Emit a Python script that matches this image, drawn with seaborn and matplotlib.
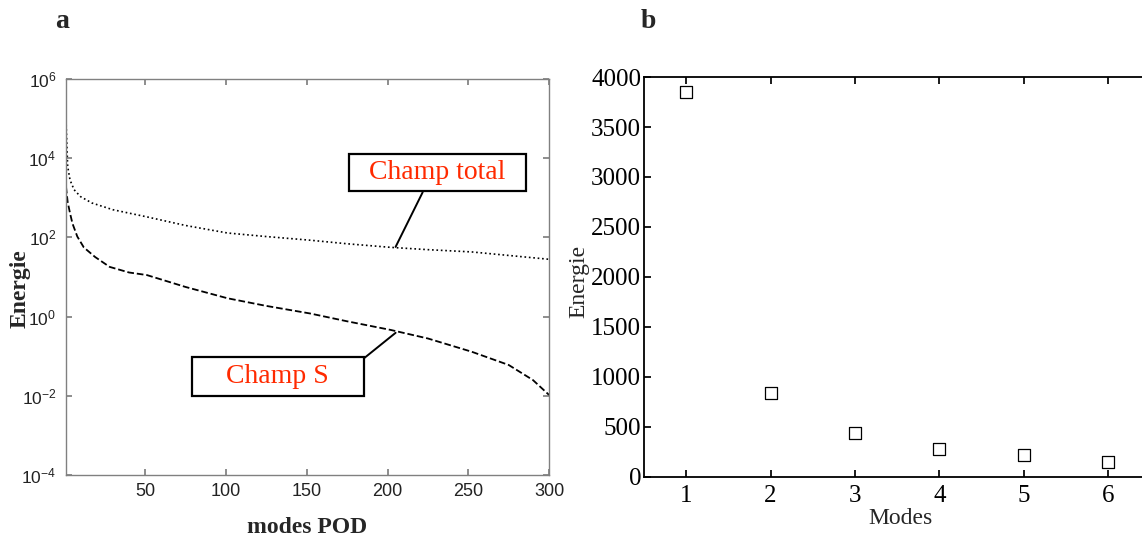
import matplotlib
matplotlib.use('Agg')
import matplotlib.pyplot as plt
import numpy as np
import pandas as pd
import seaborn as sns

# panel a: POD energy spectra
modes_total = [1, 2, 3.5, 6, 10, 17, 30, 51, 75, 101, 125, 152, 175, 202, 225, 252, 275, 300]
energie_total = [91000, 6300, 2800, 1600, 1070, 740, 500, 330, 200, 129, 105, 85, 69, 56, 49, 43, 35, 28]

modes_s = [1, 2, 3.5, 5, 8, 12, 19, 28, 40, 51, 75, 101, 125, 152, 175, 202, 225, 252, 275, 290, 300]
energie_s = [1905, 794, 407, 224, 105, 56, 32, 18, 13, 11.2, 5.6, 2.9, 1.86, 1.2, 0.76, 0.46, 0.28,
             0.13, 0.06, 0.025, 0.0105]

# panel b: first six modes
modes_b = [1, 2, 3, 4, 5, 6]
energie_b = [3850, 843, 437, 277, 220, 147]

x_ticks_a = [50, 100, 150, 200, 250, 300]
y_ticks_a = [1e-4, 1e-2, 1e0, 1e2, 1e4, 1e6]
y_ticks_b = [0, 500, 1000, 1500, 2000, 2500, 3000, 3500, 4000]

sns.set_theme(style='ticks')
plt.rcParams['font.family'] = ['Liberation Serif', 'DejaVu Serif']
plt.rcParams['mathtext.fontset'] = 'custom'
plt.rcParams['mathtext.rm'] = 'Liberation Sans'

fig = plt.figure(figsize=(11.42, 5.4), dpi=100)
fig.patch.set_facecolor('white')

# ---------- panel a ----------
ax1 = fig.add_axes([0.0578, 0.1204, 0.423, 0.7333])
df_tot = pd.DataFrame({'mode': modes_total, 'E': energie_total})
df_s = pd.DataFrame({'mode': modes_s, 'E': energie_s})
sns.lineplot(data=df_tot, x='mode', y='E', ax=ax1, color='black', lw=1.2, linestyle=':')
sns.lineplot(data=df_s, x='mode', y='E', ax=ax1, color='black', lw=1.3, linestyle='--')
ax1.set_yscale('log')
ax1.set_xlim(1, 300)
ax1.set_ylim(1e-4, 1e6)
ax1.set_xticks(x_ticks_a)
ax1.set_yticks(y_ticks_a)
ax1.minorticks_off()
for sp in ax1.spines.values():
    sp.set_color('#808080')
    sp.set_linewidth(1.0)
ax1.tick_params(direction='in', top=True, right=True, color='#808080', length=4,
                labelsize=13, labelcolor='#222222')
ax1.tick_params(axis='x', pad=6)
ax1.tick_params(axis='y', labelsize=12.5, pad=7)
for lab in ax1.get_xticklabels() + ax1.get_yticklabels():
    lab.set_family('Liberation Sans')
ax1.set_xlabel('modes POD', fontsize=17, fontweight='bold')
ax1.xaxis.set_label_coords(0.5, -0.106)
ax1.set_ylabel('Energie', fontsize=17, fontweight='bold')
ax1.yaxis.set_label_coords(-0.074, 0.47)

ax1.annotate('  Champ total  ', xy=(205, 10 ** 1.76), xytext=(231, 10 ** 3.63),
             textcoords='data', ha='center', va='center', color='#ff2a00', fontsize=20,
             bbox=dict(boxstyle='square,pad=0.22', fc='white', ec='black', lw=1.6),
             arrowprops=dict(arrowstyle='-', color='black', lw=1.4, relpos=(0.43, 0),
                             shrinkA=0, shrinkB=0))
ax1.annotate('    Champ S    ', xy=(205, 10 ** -0.41), xytext=(132, 10 ** -1.51),
             textcoords='data', ha='center', va='center', color='#ff2a00', fontsize=20,
             bbox=dict(boxstyle='square,pad=0.24', fc='white', ec='black', lw=1.6),
             arrowprops=dict(arrowstyle='-', color='black', lw=1.4, relpos=(1, 1),
                             shrinkA=0, shrinkB=0))

# ---------- panel b ----------
ax2 = fig.add_axes([0.5639, 0.1167, 0.4361, 0.7407])
df_b = pd.DataFrame({'Modes': modes_b, 'Energie': energie_b})
sns.scatterplot(data=df_b, x='Modes', y='Energie', ax=ax2, marker='s', s=85,
                facecolor='white', edgecolor='black', linewidth=0.9)
ax2.set_xlim(0.5, 6.4)
ax2.set_ylim(0, 4000)
ax2.set_xticks(modes_b)
ax2.set_yticks(y_ticks_b)
ax2.spines['right'].set_visible(False)
for sp in ['top', 'bottom', 'left']:
    ax2.spines[sp].set_color('black')
    ax2.spines[sp].set_linewidth(1.3)
ax2.tick_params(direction='in', top=True, right=False, color='black', length=5,
                labelsize=18, labelcolor='black')
ax2.tick_params(axis='x', pad=6)
ax2.tick_params(axis='y', pad=2)
ax2.set_xlabel('Modes', fontsize=17)
ax2.xaxis.set_label_coords(0.515, -0.078)
ax2.set_ylabel('Energie', fontsize=17)
ax2.yaxis.set_label_coords(-0.11, 0.49)

fig.text(62 / 1142, 1 - 22 / 540, 'a', fontsize=20, fontweight='bold', ha='center', va='center')
fig.text(648 / 1142, 1 - 22 / 540, 'b', fontsize=20, fontweight='bold', ha='center', va='center')

fig.savefig('out.png', dpi=100, facecolor='white')
